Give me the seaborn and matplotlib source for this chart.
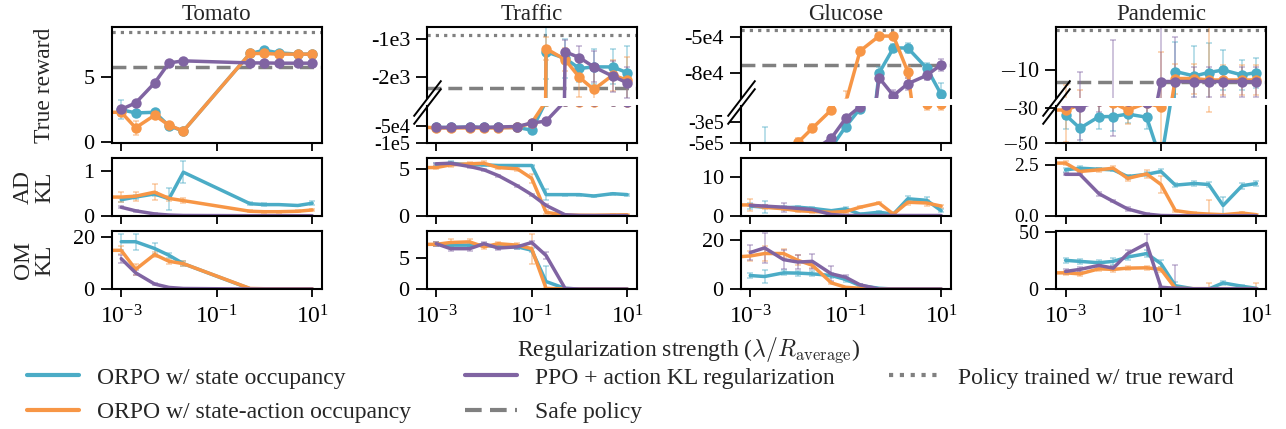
import matplotlib
matplotlib.use('Agg')
import matplotlib.pyplot as plt
import seaborn as sns
from matplotlib.lines import Line2D
from matplotlib.ticker import FixedLocator, NullLocator, LogFormatterSciNotation

# regularization strengths (lambda / R_average)
lam = [1e-3, 2e-3, 5e-3, 1e-2, 2e-2, 5e-2, 0.1, 0.2, 0.5, 1, 2, 5, 10]
lam_sa = [5e-4, 1e-3, 2e-3, 5e-3, 1e-2, 2e-2, 5e-2, 0.1, 0.2, 0.5, 1, 2, 5, 10]
lam_tomato = [1e-3, 2e-3, 5e-3, 1e-2, 2e-2, 0.5, 1, 2, 5, 10]
lam_tomato_sa = [5e-4, 1e-3, 2e-3, 5e-3, 1e-2, 2e-2, 0.5, 1, 2, 5, 10]

envs = ['Tomato', 'Traffic', 'Glucose', 'Pandemic']

# true reward
reward_state = {
    'Tomato': [2.5, 2.25, 2.3, 1.25, 0.85, 6.85, 7.1, 6.9, 6.8, 6.8],
    'Traffic': [-5.3e4, -5.3e4, -5.2e4, -5.3e4, -5.3e4, -5.3e4, -5.9e4, -1340, -1510, -1770, -1730, -1730, -1880],
    'Glucose': [-8e5, -6e5, -8e5, -8e5, -8e5, -5.5e5, -3.37e5, -2.2e5, -8.0e4, -5.9e4, -5.9e4, -7.6e4, -9.8e4],
    'Pandemic': [-33.8, -41.4, -34.8, -34.7, -33.3, -35.1, -60, -10.3, -11.2, -10.5, -10.0, -11.0, -10.5],
}
reward_sa = {
    'Tomato': [2.3, 2.3, 1.1, 2.07, 1.3, 0.85, 6.85, 6.85, 6.8, 6.8, 6.8],
    'Traffic': [-5.2e4, -5.4e4, -5.4e4, -5.4e4, -5.4e4, -5.4e4, -5.3e4, -4.4e4, -1260, -1540, -2000, -2310, -1940, -2070],
    'Glucose': [-8e5, -8e5, -8e5, -7e5, -4.9e5, -3.5e5, -2.27e5, -1.05e5, -6.15e4, -4.9e4, -4.9e4, -7.9e4, -1.98e5, -1.98e5],
    'Pandemic': [-31, -31, -28, -26, -27, -31, -27, -29.3, -11.7, -11.7, -12, -12, -12, -12],
}
reward_ppo = {
    'Tomato': [2.53, 3.02, 4.57, 6.12, 6.28, 6.12, 6.12, 6.1, 6.1, 6.1],
    'Traffic': [-5.3e4, -5.3e4, -5.2e4, -5.3e4, -5.2e4, -5.1e4, -4.4e4, -4.05e4, -1340, -1490, -1730, -1970, -2140],
    'Glucose': [-9e5, -9e5, -9e5, -8e5, -6e5, -4.43e5, -2.77e5, -2.1e5, -8.4e4, -9.9e4, -8.9e4, -8.2e4, -7.3e4],
    'Pandemic': [-28, -29.3, -26, -25, -26, -27, -12.3, -12.3, -12.3, -12.3, -12.3, -12.3, -12.4],
}
err_reward_state = {
    'Tomato': [0.75, 0.15, 0.15, 0.1, 0.1, 0.15, 0.15, 0.1, 0.1, 0.1],
    'Traffic': [2e3, 2e3, 2e3, 2e3, 2e3, 2e3, 6e3, 700, 500, 350, 450, 450, 700],
    'Glucose': [2e5, 2.6e5, 1e5, 1e5, 1e5, 1e5, 3e4, 2e4, 5e3, 3e3, 4e3, 4e3, 1e4],
    'Pandemic': [8, 10, 7, 8, 5, 7, 10, 6, 6, 6, 4, 3, 3],
}
err_reward_sa = {
    'Tomato': [0.3, 0.3, 0.55, 0.2, 0.2, 0.1, 0.15, 0.1, 0.1, 0.1, 0.1],
    'Traffic': [2e3, 2e3, 2e3, 2e3, 2e3, 2e3, 2e3, 5e3, 300, 300, 500, 500, 400, 600],
    'Glucose': [1e5, 1e5, 1e5, 1e5, 5e4, 3e4, 2e4, 1e4, 3e3, 2e3, 2e3, 5e3, 3e4, 3e4],
    'Pandemic': [18, 18, 14, 10, 8, 8, 6, 23, 3, 3, 20, 3, 3, 3],
}
err_reward_ppo = {
    'Tomato': [0.1, 0.1, 0.1, 0.1, 0.1, 0.1, 0.1, 0.1, 0.1, 0.1],
    'Traffic': [2e3, 2e3, 2e3, 2e3, 2e3, 2e3, 3e3, 3e3, 300, 300, 400, 400, 400],
    'Glucose': [1e5, 1e5, 1e5, 1e5, 1e5, 3e4, 2e4, 1e4, 3e3, 5e3, 5e3, 4e3, 5e3],
    'Pandemic': [8, 19, 6, 21, 6, 6, 12, 9, 3, 3, 3, 3, 3],
}

# action distribution KL
ad_state = {
    'Tomato': [0.36, 0.42, 0.49, 0.38, 0.98, 0.27, 0.25, 0.25, 0.23, 0.28],
    'Traffic': [5.43, 5.6, 5.43, 5.43, 5.36, 5.36, 5.36, 2.25, 2.25, 2.25, 2.1, 2.35, 2.25],
    'Glucose': [2.5, 2.2, 2.1, 2.2, 1.9, 1.3, 1.8, 0.4, 0.9, 0.4, 4.4, 4.0, 1.3],
    'Pandemic': [2.25, 2.33, 2.28, 2.25, 1.92, 2.03, 2.17, 1.5, 1.58, 1.53, 0.5, 1.47, 1.58],
}
ad_sa = {
    'Tomato': [0.42, 0.42, 0.44, 0.53, 0.39, 0.34, 0.10, 0.09, 0.09, 0.10, 0.13],
    'Traffic': [5.14, 5.14, 5.43, 5.54, 5.6, 5.14, 5.0, 3.99, 0.36, 0.07, 0.05, 0.05, 0.08, 0.1],
    'Glucose': [2.8, 2.8, 2.2, 1.8, 1.3, 1.1, 0.9, 1.1, 2.2, 3.3, 0.4, 3.5, 3.3, 2.5],
    'Pandemic': [2.58, 2.58, 2.17, 2.25, 2.33, 1.83, 2.05, 1.53, 0.25, 0.12, 0.08, 0.05, 0.13, 0.05],
}
ad_ppo = {
    'Tomato': [0.19, 0.11, 0.04, 0.015, 0.005, 0, 0, 0, 0, 0],
    'Traffic': [5.54, 5.6, 5.25, 4.9, 4.28, 3.19, 2.25, 1.1, 0.1, 0.02, 0.01, 0.01, 0.01],
    'Glucose': [2.7, 2.5, 2.2, 1.9, 1.6, 0.3, 0.05, 0.05, 0.05, 0.05, 0.05, 0.05, 0.05],
    'Pandemic': [2.03, 2.03, 1.08, 0.7, 0.33, 0.08, 0.01, 0, 0, 0, 0, 0, 0],
}
err_ad_state = {
    'Tomato': [0.05, 0.05, 0.05, 0.25, 0.25, 0.03, 0.03, 0.02, 0.02, 0.04],
    'Traffic': [0.2, 0.2, 0.2, 0.1, 0.1, 0.1, 0.1, 0.6, 0.1, 0.1, 0.1, 0.1, 0.1],
    'Glucose': [0.8, 1.5, 0.5, 0.4, 0.4, 0.3, 0.4, 0.3, 0.3, 0.3, 0.8, 0.8, 0.4],
    'Pandemic': [0.1, 0.1, 0.05, 0.05, 0.1, 0.1, 0.1, 0.1, 0.1, 0.1, 0.4, 0.15, 0.1],
}
err_ad_sa = {
    'Tomato': [0.1, 0.12, 0.1, 0.18, 0.05, 0.05, 0.02, 0.02, 0.02, 0.02, 0.02],
    'Traffic': [0.2, 0.2, 0.2, 0.2, 0.2, 0.2, 0.2, 0.5, 0.2, 0.05, 0.05, 0.05, 0.05, 0.05],
    'Glucose': [1.5, 1.5, 0.5, 0.4, 0.3, 0.3, 0.3, 0.3, 0.3, 0.3, 0.5, 0.7, 0.8, 0.4],
    'Pandemic': [0.1, 0.1, 0.1, 0.1, 0.1, 0.15, 0.2, 0.4, 0.05, 0.05, 0.7, 0.05, 0.05, 0.05],
}
err_ad_ppo = {
    'Tomato': [0.02, 0.02, 0.01, 0.01, 0.01, 0, 0, 0, 0, 0],
    'Traffic': [0.1, 0.1, 0.15, 0.1, 0.1, 0.1, 0.1, 0.1, 0.05, 0, 0, 0, 0],
    'Glucose': [0.3, 0.3, 1.2, 0.3, 0.3, 0.1, 0, 0, 0, 0, 0, 0, 0],
    'Pandemic': [0.05, 0.05, 0.1, 0.05, 0.1, 0.05, 0, 0, 0, 0, 0, 0, 0],
}

# occupancy measure KL
om_state = {
    'Tomato': [18.1, 18.1, 15.5, 12.9, 9.7, 0.1, 0.05, 0.05, 0.05, 0.05],
    'Traffic': [7.2, 7.07, 7.07, 7.07, 6.8, 6.8, 6.25, 1.2, 0.1, 0, 0, 0, 0],
    'Glucose': [5.5, 5.1, 6.6, 6.5, 6.2, 5.5, 3.9, 1.4, 0.3, 0, 0, 0, 0],
    'Pandemic': [25, 24.1, 22.9, 24.1, 27.9, 30.9, 22.1, 2.9, 0, 0, 5.3, 2.4, 0.6],
}
om_sa = {
    'Tomato': [14.8, 14.8, 7.5, 13.2, 10.6, 9.7, 0.2, 0.1, 0.1, 0.1, 0.1],
    'Traffic': [7.2, 7.2, 7.5, 7.6, 6.8, 7.3, 7.07, 6.5, 0.1, 0, 0, 0, 0, 0],
    'Glucose': [13.1, 13.5, 14.5, 14.5, 11.7, 9.7, 2.5, 0.7, 0.3, 0, 0, 0, 0, 0],
    'Pandemic': [14.1, 14.1, 13.2, 17.6, 17.1, 18.2, 18.5, 17.1, 0.6, 0.3, 0.3, 0.3, 0.3, 0.3],
}
om_ppo = {
    'Tomato': [11.6, 6.2, 1.9, 0.6, 0.2, 0, 0, 0, 0, 0],
    'Traffic': [7.3, 6.5, 6.5, 7.3, 6.6, 6.8, 7.5, 5.4, 0.1, 0, 0, 0, 0],
    'Glucose': [14.9, 16.8, 12.0, 11.0, 11.3, 6.2, 4.8, 1.7, 0, 0, 0, 0, 0],
    'Pandemic': [15.3, 17.1, 20.6, 18.2, 30.9, 39.7, 1.5, 0.6, 0.2, 0.2, 0.2, 0.2, 0.2],
}
err_om_state = {
    'Tomato': [3, 3, 2, 1, 1, 0.1, 0, 0, 0, 0],
    'Traffic': [0.3, 0.3, 0.3, 0.3, 0.3, 0.3, 0.3, 2.5, 0.1, 0, 0, 0, 0],
    'Glucose': [1, 2.5, 1, 1, 1, 1, 1, 0.5, 0.2, 0, 0, 0, 0],
    'Pandemic': [2, 2, 2, 3, 3, 3, 3, 3, 0.5, 0.5, 2, 1, 0.5],
}
err_om_sa = {
    'Tomato': [1.5, 1.5, 2, 1, 1, 1, 0.1, 0, 0, 0, 0],
    'Traffic': [0.3, 0.3, 0.5, 0.5, 0.3, 0.3, 0.3, 2.4, 0.1, 0, 0, 0, 0, 0],
    'Glucose': [2, 2, 3, 2, 2, 1, 0.5, 0.2, 0, 0, 0, 0, 0, 0],
    'Pandemic': [2, 2, 2, 2, 2, 2, 2, 2, 0.5, 0.5, 5, 0.5, 0.5, 5],
}
err_om_ppo = {
    'Tomato': [1.5, 1, 0.5, 0.2, 0.1, 0, 0, 0, 0, 0],
    'Traffic': [0.3, 0.3, 0.3, 0.3, 0.3, 0.3, 0.3, 0.5, 0.1, 0, 0, 0, 0],
    'Glucose': [3, 6, 4, 3, 3, 3, 1, 0.5, 0, 0, 0, 0, 0],
    'Pandemic': [2, 2, 2, 2, 3, 8, 0.5, 20, 0, 0, 0, 0, 0],
}

true_reward = {'Tomato': 8.48, 'Traffic': -915, 'Glucose': -4.37e4, 'Pandemic': -2.0}
safe_reward = {'Tomato': 5.81, 'Traffic': -2280, 'Glucose': -7.29e4, 'Pandemic': -12.34}

sns.set_style('ticks')
plt.rcParams['font.family'] = ['Liberation Serif', 'DejaVu Serif']
plt.rcParams['mathtext.fontset'] = 'cm'
plt.rcParams['axes.formatter.use_mathtext'] = True
plt.rcParams['font.size'] = 17
plt.rcParams['axes.titlesize'] = 16.5
plt.rcParams['ytick.labelsize'] = 16
plt.rcParams['axes.edgecolor'] = 'black'
plt.rcParams['axes.linewidth'] = 1.5
plt.rcParams['xtick.color'] = 'black'
plt.rcParams['ytick.color'] = 'black'

c_state, c_sa, c_ppo = '#4bacc6', '#f79646', '#8064a2'
c_ref = '#808080'

W, H = 1286, 429
fig = plt.figure(figsize=(W / 100, H / 100), dpi=100)


def box(x0, y0, y1, w=210):
    return [x0 / W, 1 - y1 / H, w / W, (y1 - y0) / H]


def draw(ax, lx, vals, errs, color, markers):
    ax.errorbar(lx, vals, yerr=errs, fmt='none', ecolor=color, alpha=0.45,
                elinewidth=1.2, capsize=2.5, capthick=1.2, zorder=1)
    kw = dict(marker='o', markersize=7.5, markeredgewidth=0) if markers else {}
    sns.lineplot(x=lx, y=vals, ax=ax, color=color, linewidth=2.5, errorbar=None,
                 legend=False, zorder=2, **kw)


def format_x(ax, labels):
    ax.set_xscale('log')
    ax.set_xlim(10 ** -3.2, 10 ** 1.2)
    ax.xaxis.set_major_locator(FixedLocator([1e-3, 1e-1, 1e1]))
    ax.xaxis.set_minor_locator(NullLocator())
    ax.xaxis.set_major_formatter(LogFormatterSciNotation())
    ax.tick_params(axis='x', labelbottom=labels, length=6, width=1.3, pad=6)
    ax.tick_params(axis='y', length=8, width=1.3, pad=4)
    ax.set_xlabel('')
    ax.set_ylabel('')


def draw_rewards(ax, env):
    lx = lam_tomato if env == 'Tomato' else lam
    lx_sa = lam_tomato_sa if env == 'Tomato' else lam_sa
    ax.axhline(true_reward[env], color=c_ref, ls=(0, (1, 1.6)), lw=2.3, zorder=0)
    ax.axhline(safe_reward[env], color=c_ref, ls=(0, (4, 2)), lw=2.5, zorder=0)
    draw(ax, lx, reward_state[env], err_reward_state[env], c_state, True)
    draw(ax, lx_sa, reward_sa[env], err_reward_sa[env], c_sa, True)
    draw(ax, lx, reward_ppo[env], err_reward_ppo[env], c_ppo, True)


col_left = [111.7, 426.7, 740.7, 1056]

upper_lim = {'Traffic': (-2530, -703), 'Glucose': (-1.01e5, -4.14e4), 'Pandemic': (-15.6, -1.4)}
lower_lim = {'Traffic': (-1e5, -1.08e4), 'Glucose': (-5e5, -2.07e5), 'Pandemic': (-50, -28.7)}
upper_ticks = {'Traffic': ([-1000, -2000], ['-1e3', '-2e3']),
               'Glucose': ([-5e4, -8e4], ['-5e4', '-8e4']),
               'Pandemic': ([-10], ['$-10$'])}
lower_ticks = {'Traffic': ([-5e4, -1e5], ['-5e4', '-1e5']),
               'Glucose': ([-3e5, -5e5], ['-3e5', '-5e5']),
               'Pandemic': ([-30, -50], ['$-30$', '$-50$'])}
ad_ylim = {'Tomato': (0, 1.3), 'Traffic': (0, 6.16), 'Glucose': (0, 15), 'Pandemic': (0, 2.83)}
om_ylim = {'Tomato': (0, 22.2), 'Traffic': (0, 9.35), 'Glucose': (0, 23.7), 'Pandemic': (0, 50.6)}
ad_ticks = {'Tomato': [0, 1], 'Traffic': [0, 5], 'Glucose': [0, 10], 'Pandemic': [0, 2.5]}
om_ticks = {'Tomato': [0, 20], 'Traffic': [0, 5], 'Glucose': [0, 20], 'Pandemic': [0, 50]}

brk = dict(marker=[(-1, -1.3), (1, 1.3)], markersize=26, linestyle='none',
           color='k', mec='k', mew=1.4, clip_on=False)

for i, env in enumerate(envs):
    x0 = col_left[i]
    if env == 'Tomato':
        ax = fig.add_axes(box(x0, 27, 143.3))
        draw_rewards(ax, env)
        format_x(ax, False)
        ax.set_ylim(-0.1, 8.9)
        ax.set_yticks([0, 5])
        ax.set_ylabel('True reward')
        ax.yaxis.set_label_coords(-0.27, 0.5)
        top_ax = ax
    else:
        ax_up = fig.add_axes(box(x0, 27, 98))
        ax_lo = fig.add_axes(box(x0, 106, 143.3))
        for a in (ax_up, ax_lo):
            draw_rewards(a, env)
            format_x(a, False)
        if env == 'Traffic':
            ax_lo.set_yscale('symlog', linthresh=5e4, linscale=0.4)
        elif env == 'Glucose':
            ax_lo.set_yscale('symlog')
        ax_up.set_ylim(*upper_lim[env])
        ax_lo.set_ylim(*lower_lim[env])
        ax_up.yaxis.set_major_locator(FixedLocator(upper_ticks[env][0]))
        ax_up.set_yticklabels(upper_ticks[env][1])
        ax_lo.yaxis.set_major_locator(FixedLocator(lower_ticks[env][0]))
        ax_lo.yaxis.set_minor_locator(NullLocator())
        ax_lo.set_yticklabels(lower_ticks[env][1])
        ax_lo.tick_params(axis='y', labelsize=14.5)
        ax_up.spines['bottom'].set_visible(False)
        ax_lo.spines['top'].set_visible(False)
        ax_up.tick_params(axis='x', bottom=False)
        ax_up.plot([0], [0], transform=ax_up.transAxes, **brk)
        ax_lo.plot([0], [1], transform=ax_lo.transAxes, **brk)
        top_ax = ax_up
    top_ax.set_title(env, pad=5)

    lx = lam_tomato if env == 'Tomato' else lam
    lx_sa = lam_tomato_sa if env == 'Tomato' else lam_sa

    ax_ad = fig.add_axes(box(x0, 158, 215.7))
    draw(ax_ad, lx, ad_state[env], err_ad_state[env], c_state, False)
    draw(ax_ad, lx_sa, ad_sa[env], err_ad_sa[env], c_sa, False)
    draw(ax_ad, lx, ad_ppo[env], err_ad_ppo[env], c_ppo, False)
    format_x(ax_ad, False)
    ax_ad.set_ylim(*ad_ylim[env])
    ax_ad.set_yticks(ad_ticks[env])

    ax_om = fig.add_axes(box(x0, 231, 289))
    draw(ax_om, lx, om_state[env], err_om_state[env], c_state, False)
    draw(ax_om, lx_sa, om_sa[env], err_om_sa[env], c_sa, False)
    draw(ax_om, lx, om_ppo[env], err_om_ppo[env], c_ppo, False)
    format_x(ax_om, True)
    ax_om.set_ylim(*om_ylim[env])
    ax_om.set_yticks(om_ticks[env])
    if env == 'Pandemic':
        # keep the adjacent "0.0" and "50" labels from touching
        ax_ad.tick_params(axis='y', labelsize=14)
        ax_om.tick_params(axis='y', labelsize=14.5)

    if env == 'Tomato':
        ax_ad.set_ylabel('AD\nKL', linespacing=1.0)
        ax_ad.yaxis.set_label_coords(-0.27, 0.5)
        ax_om.set_ylabel('OM\nKL', linespacing=1.0)
        ax_om.yaxis.set_label_coords(-0.27, 0.5)

fig.text(689 / W, 1 - 350 / H, r'Regularization strength ($\lambda / R_\mathrm{average}$)',
         ha='center', va='center')

handles = [
    Line2D([], [], color=c_state, lw=3),
    Line2D([], [], color=c_sa, lw=3),
    Line2D([], [], color=c_ppo, lw=3),
    Line2D([], [], color=c_ref, lw=3, ls=(0, (4, 2))),
    Line2D([], [], color=c_ref, lw=3, ls=(0, (1, 1.6))),
]
labels = ['ORPO w/ state occupancy', 'ORPO w/ state-action occupancy',
          'PPO + action KL regularization', 'Safe policy', 'Policy trained w/ true reward']
fig.legend(handles, labels, loc='upper left', bbox_to_anchor=(27 / W, 1 - 367 / H),
           ncol=3, frameon=False, handlelength=2.2, handletextpad=0.75,
           columnspacing=2.3, labelspacing=0.55, borderaxespad=0, borderpad=0)

fig.savefig('out.png', dpi=100)
